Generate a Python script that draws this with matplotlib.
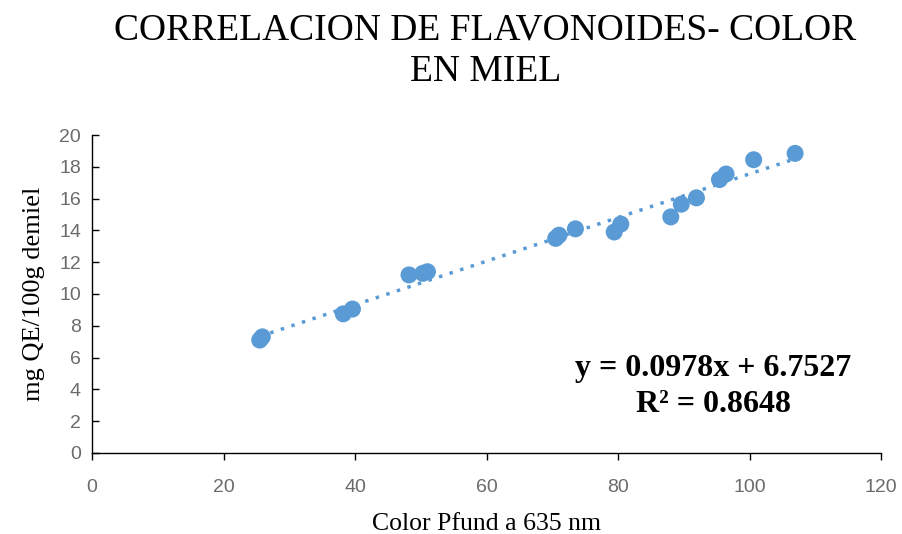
import numpy as np
import matplotlib.pyplot as plt

# Datos
color_pfund = [25.5, 25.9, 38.2, 39.6, 48.2, 50.3, 51.0, 70.5, 71.0, 73.5,
               79.4, 80.4, 88.0, 89.6, 91.9, 95.4, 96.4, 100.6, 106.9]
flavonoides = [7.1, 7.3, 8.75, 9.05, 11.2, 11.3, 11.4, 13.5, 13.7, 14.1,
               13.9, 14.4, 14.85, 15.65, 16.05, 17.2, 17.55, 18.45, 18.85]

x_ticks = [0, 20, 40, 60, 80, 100, 120]
y_ticks = [0, 2, 4, 6, 8, 10, 12, 14, 16, 18, 20]

blue = "#5B9BD5"
serif = ["Liberation Serif", "DejaVu Serif"]
tick_font = ["Liberation Sans Narrow", "Liberation Sans", "DejaVu Sans"]

fig = plt.figure(figsize=(9.02, 5.34), dpi=100)
ax = fig.add_axes([0.102, 0.152, 0.875, 0.595])

ax.scatter(color_pfund, flavonoides, s=150, color=blue, zorder=3, edgecolors="none")

# línea de tendencia
m, b = np.polyfit(color_pfund, flavonoides, 1)
xs = np.array([min(color_pfund), max(color_pfund)])
ax.plot(xs, m * xs + b, linestyle=(0, (1, 2.2)), color=blue, linewidth=2.5, zorder=2)

ax.set_xlim(0, 120)
ax.set_ylim(0, 20)
ax.set_xticks(x_ticks)
ax.set_yticks(y_ticks)
for lbl in ax.get_xticklabels() + ax.get_yticklabels():
    lbl.set_family(tick_font)
    lbl.set_fontsize(14)
    lbl.set_color("#6b6b6b")
ax.tick_params(axis="x", direction="out", length=5, width=1, pad=14)
ax.tick_params(axis="y", direction="in", length=5, width=1, pad=8)

for s in ["top", "right"]:
    ax.spines[s].set_visible(False)
for s in ["left", "bottom"]:
    ax.spines[s].set_color("black")
    ax.spines[s].set_linewidth(1)

ax.set_xlabel("Color Pfund a 635 nm", family=serif, fontsize=18.5, labelpad=12)
ax.set_ylabel("mg QE/100g demiel", family=serif, fontsize=19, labelpad=10)

fig.text(0.538, 0.975, "CORRELACION DE FLAVONOIDES- COLOR\nEN MIEL", family=serif,
         fontsize=27, ha="center", va="top", linespacing=1.25)

ax.text(0.787, 0.31, "y = 0.0978x + 6.7527\nR² = 0.8648", transform=ax.transAxes,
        family=serif, fontsize=23, fontweight="bold", ha="center", va="top",
        linespacing=1.3)

fig.savefig("out.png", dpi=100)
